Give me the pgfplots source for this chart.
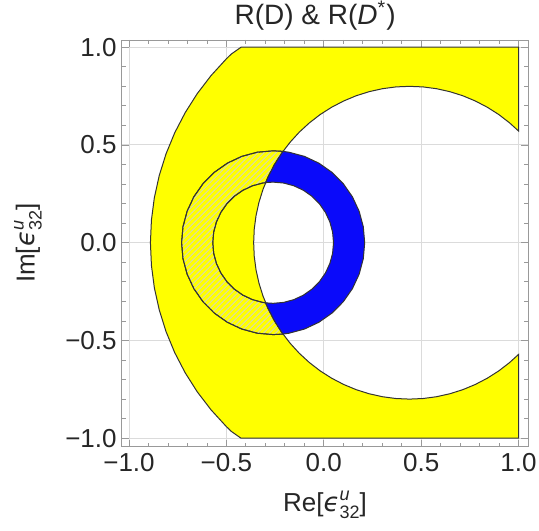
\documentclass[border=0pt]{standalone}
\usepackage{fontspec}
\setmainfont{Liberation Sans}
\newfontfamily\gk{DejaVu Sans}
\usepackage{pgfplots}
\pgfplotsset{compat=1.18}
\usetikzlibrary{patterns}

\definecolor{yel}{RGB}{255,255,0}
\definecolor{blu}{RGB}{10,10,250}
\newcommand{\eps}{{\gk\itshape ϵ}\rlap{\raisebox{0.8ex}{\fontsize{9}{9}\selectfont\itshape u}}\raisebox{-0.5ex}{\fontsize{9}{9}\selectfont 32}}

\begin{document}
\begin{tikzpicture}
\begin{axis}[
    scale only axis,
    width=203.2pt, height=203.3pt,
    xmin=-1.0375, xmax=1.049,
    ymin=-1.043, ymax=1.037,
    xtick={-1,-0.5,0,0.5,1},
    ytick={-1,-0.5,0,0.5,1},
    xticklabels={−1.0,−0.5,0.0,0.5,1.0},
    yticklabels={−1.0,−0.5,0.0,0.5,1.0},
    minor tick num=4,
    tick align=inside,
    major tick length=3.5pt,
    minor tick length=2pt,
    axis line style={black!40},
    tick style={black!40, line width=0.4pt},
    grid=major,
    grid style={black!14, line width=0.5pt},
    tick label style={font=\fontsize{13}{13}\selectfont, text=black!85},
    yticklabel style={xshift=1pt},
    title={R(D) \& R(\textit{D}\textsuperscript{*})},
    every axis title shift=0pt,
    every axis title/.style={font=\fontsize{14}{14}\selectfont, text=black!85,
        at={(axis description cs:0.476,1)}, anchor=base, yshift=7.5pt},
    xlabel={Re[\eps]},
    ylabel={Im[\eps]},
    xlabel style={at={(axis description cs:0.5,0)}, anchor=base, yshift=-32.5pt},
    ylabel style={at={(axis description cs:-0.2306,0.5)}, anchor=center},
    label style={font=\fontsize{13}{13}\selectfont, text=black!85},
]
% yellow annulus, centre (0.44,0), radii 0.8 and 1.33
\addplot[fill=yel, draw=black!80, line width=0.5pt] coordinates {
    (1,1) (-0.425,1) (-0.475,0.965) (-0.5004,0.9404) (-0.5788,0.8549)
    (-0.6495,0.7629) (-0.7118,0.665) (-0.7654,0.5621) (-0.8098,0.4549)
    (-0.8446,0.3442) (-0.8698,0.2309) (-0.8849,0.116) (-0.89,0)
    (-0.8849,-0.116) (-0.8698,-0.2309) (-0.8446,-0.3442) (-0.8098,-0.4549)
    (-0.7654,-0.5621) (-0.7118,-0.665) (-0.6495,-0.7629) (-0.5788,-0.8549)
    (-0.5004,-0.9404) (-0.475,-0.965) (-0.425,-1) (1,-1) (1,-0.5713)
    (0.9542,-0.6128) (0.8989,-0.6554) (0.84,-0.6928) (0.7781,-0.725)
    (0.7136,-0.7518) (0.647,-0.7727) (0.5789,-0.7878) (0.5098,-0.797)
    (0.44,-0.8) (0.3702,-0.797) (0.3011,-0.7878) (0.233,-0.7727)
    (0.1664,-0.7518) (0.1019,-0.725) (0.04,-0.6928) (-0.0189,-0.6554)
    (-0.0742,-0.6128) (-0.1257,-0.5657) (-0.1728,-0.5142) (-0.2154,-0.4589)
    (-0.2528,-0.4) (-0.285,-0.3381) (-0.3118,-0.2736) (-0.3327,-0.207)
    (-0.3478,-0.1389) (-0.357,-0.0698) (-0.36,0) (-0.357,0.0698)
    (-0.3478,0.1389) (-0.3327,0.207) (-0.3118,0.2736) (-0.285,0.3381)
    (-0.2528,0.4) (-0.2154,0.4589) (-0.1728,0.5142) (-0.1257,0.5657)
    (-0.0742,0.6128) (-0.0189,0.6554) (0.04,0.6928) (0.1019,0.725)
    (0.1664,0.7518) (0.233,0.7727) (0.3011,0.7878) (0.3702,0.797)
    (0.44,0.8) (0.5098,0.797) (0.5789,0.7878) (0.647,0.7727)
    (0.7136,0.7518) (0.7781,0.725) (0.84,0.6928) (0.8989,0.6554)
    (0.9542,0.6128) (1,0.5713)
} -- cycle;
% overlap of the small annulus with the yellow band
\addplot[fill=yel, draw=black!80, line width=0.5pt,
    postaction={pattern=north east lines, pattern color=black!18}] coordinates {
    (-0.2094,0.4673) (-0.26,0.47) (-0.3416,0.4629) (-0.4207,0.4417)
    (-0.495,0.407) (-0.5621,0.36) (-0.62,0.3021) (-0.667,0.235)
    (-0.7017,0.1607) (-0.7229,0.0816) (-0.73,0) (-0.7229,-0.0816)
    (-0.7017,-0.1607) (-0.667,-0.235) (-0.62,-0.3021) (-0.5621,-0.36)
    (-0.495,-0.407) (-0.4207,-0.4417) (-0.3416,-0.4629) (-0.26,-0.47)
    (-0.2094,-0.4673) (-0.2154,-0.4589) (-0.2528,-0.4) (-0.285,-0.3381)
    (-0.2985,-0.3076)
    (-0.3138,-0.3053) (-0.366,-0.2913) (-0.415,-0.2685) (-0.4593,-0.2375)
    (-0.4975,-0.1993) (-0.5285,-0.155) (-0.5513,-0.106) (-0.5653,-0.0538)
    (-0.57,0) (-0.5653,0.0538) (-0.5513,0.106) (-0.5285,0.155)
    (-0.4975,0.1993) (-0.4593,0.2375) (-0.415,0.2685) (-0.366,0.2913)
    (-0.3138,0.3053) (-0.2985,0.3076) (-0.285,0.3381) (-0.2528,0.4)
    (-0.2154,0.4589)
} -- cycle;
% blue part of the small annulus, centre (-0.26,0), radii 0.31 and 0.47
\addplot[fill=blu, draw=black!80, line width=0.5pt] coordinates {
    (-0.2094,0.4673) (-0.1784,0.4629) (-0.0993,0.4417) (-0.025,0.407)
    (0.0421,0.36) (0.1,0.3021) (0.147,0.235) (0.1817,0.1607)
    (0.2029,0.0816) (0.21,0) (0.2029,-0.0816) (0.1817,-0.1607)
    (0.147,-0.235) (0.1,-0.3021) (0.0421,-0.36) (-0.025,-0.407)
    (-0.0993,-0.4417) (-0.1784,-0.4629) (-0.2094,-0.4673)
    (-0.2154,-0.4589) (-0.2528,-0.4) (-0.285,-0.3381) (-0.2985,-0.3076)
    (-0.26,-0.31) (-0.2062,-0.3053) (-0.154,-0.2913) (-0.105,-0.2685)
    (-0.0607,-0.2375) (-0.0225,-0.1993) (0.0085,-0.155) (0.0313,-0.106)
    (0.0453,-0.0538) (0.05,0) (0.0453,0.0538) (0.0313,0.106)
    (0.0085,0.155) (-0.0225,0.1993) (-0.0607,0.2375) (-0.105,0.2685)
    (-0.154,0.2913) (-0.2062,0.3053) (-0.26,0.31) (-0.2985,0.3076)
    (-0.285,0.3381) (-0.2528,0.4) (-0.2154,0.4589)
} -- cycle;
\end{axis}
\pgfresetboundingbox
\path[use as bounding box] (-60.85pt,-42pt) rectangle (208.65pt,223.3pt);
\end{tikzpicture}
\end{document}
